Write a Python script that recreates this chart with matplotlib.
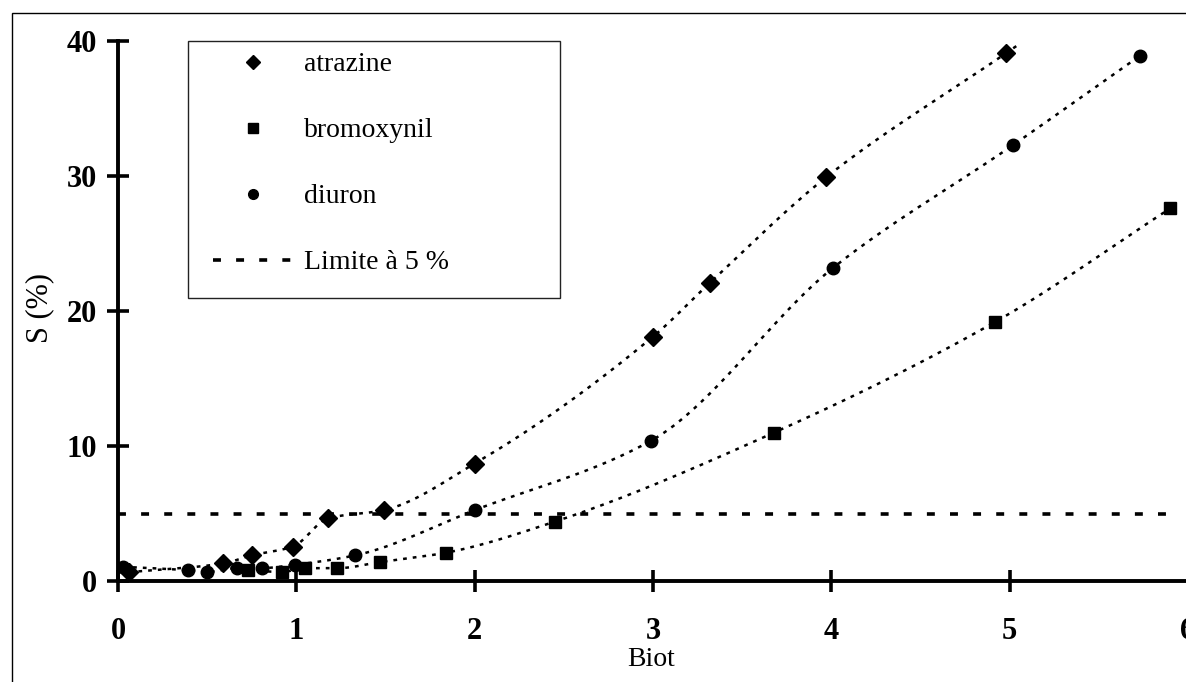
import numpy as np
import matplotlib.pyplot as plt
from matplotlib.patches import Rectangle

# ---- data ----
atrazine_x = [0.06, 0.59, 0.75, 0.98, 1.18, 1.49, 2.00, 3.00, 3.32, 3.97, 4.98]
atrazine_y = [0.65, 1.30, 1.90, 2.55, 4.65, 5.25, 8.70, 18.1, 22.1, 29.9, 39.1]

bromoxynil_x = [0.73, 0.92, 1.05, 1.23, 1.47, 1.84, 2.45, 3.68, 4.92, 5.90]
bromoxynil_y = [0.80, 0.67, 0.95, 0.95, 1.40, 2.10, 4.40, 11.0, 19.2, 27.6]

diuron_x = [0.03, 0.39, 0.50, 0.67, 0.81, 0.99, 1.33, 2.00, 2.99, 4.01, 5.02, 5.73]
diuron_y = [1.05, 0.80, 0.67, 0.96, 0.96, 1.20, 1.90, 5.25, 10.4, 23.2, 32.3, 38.9]

limit_value = 5
limit_x = [0, 5.9]

x_ticks = [0, 1, 2, 3, 4, 5, 6]
y_ticks = [0, 10, 20, 30, 40]


def smooth_curve(x, y, x_end=None, n=400):
    """Monotone cubic (PCHIP) rendering of the line through the points,
    optionally prolonged past the last point along its end slope."""
    x = np.asarray(x, float)
    y = np.asarray(y, float)
    h = np.diff(x)
    d = np.diff(y) / h
    m = np.zeros_like(x)
    m[0], m[-1] = d[0], d[-1]
    for k in range(1, len(x) - 1):
        if d[k - 1] * d[k] <= 0:
            m[k] = 0.0
        else:
            w1 = 2 * h[k] + h[k - 1]
            w2 = h[k] + 2 * h[k - 1]
            m[k] = (w1 + w2) / (w1 / d[k - 1] + w2 / d[k])
    xx = np.linspace(x[0], x[-1], n)
    idx = np.clip(np.searchsorted(x, xx) - 1, 0, len(x) - 2)
    t = (xx - x[idx]) / h[idx]
    h00 = 2 * t**3 - 3 * t**2 + 1
    h10 = t**3 - 2 * t**2 + t
    h01 = -2 * t**3 + 3 * t**2
    h11 = t**3 - t**2
    yy = (h00 * y[idx] + h10 * h[idx] * m[idx]
          + h01 * y[idx + 1] + h11 * h[idx] * m[idx + 1])
    if x_end is not None and x_end > x[-1]:
        xx = np.append(xx, x_end)
        yy = np.append(yy, y[-1] + m[-1] * (x_end - x[-1]))
    return xx, yy


plt.rcParams['font.family'] = ['Liberation Serif', 'DejaVu Serif']

W, H = 1186, 682
fig = plt.figure(figsize=(W / 100, H / 100), dpi=100)
ax = fig.add_axes([118 / W, (H - 581) / H, (1188 - 118) / W, (581 - 41) / H])

trend_style = dict(color='black', lw=1.8, linestyle=(0, (1.5, 2.4)), zorder=2)

series = [
    ('atrazine', atrazine_x, atrazine_y, 'D', 9.5, 5.05),
    ('bromoxynil', bromoxynil_x, bromoxynil_y, 's', 8.5, None),
    ('diuron', diuron_x, diuron_y, 'o', 9, None),
]

handles = []
for name, xs, ys, mk, ms, xend in series:
    xx, yy = smooth_curve(xs, ys, xend)
    ax.plot(xx, yy, **trend_style)
    h, = ax.plot(xs, ys, linestyle='none', marker=mk, ms=ms, color='black',
                 label=name, zorder=3)
    handles.append(h)

lim, = ax.plot(limit_x, [limit_value, limit_value], color='black', lw=2.6,
               linestyle=(0, (2.2, 4.2)), label='Limite à 5 %', zorder=2)
handles.append(lim)

ax.set_xlim(0, 6)
ax.set_ylim(0, 40)
ax.set_xticks(x_ticks)
ax.set_yticks(y_ticks)
for s in ['top', 'right']:
    ax.spines[s].set_visible(False)
for s in ['left', 'bottom']:
    ax.spines[s].set_linewidth(2.8)
ax.tick_params(direction='inout', length=16, width=2.6, labelsize=22)
ax.tick_params(axis='x', pad=18)
ax.tick_params(axis='y', pad=7)
for lbl in ax.get_xticklabels() + ax.get_yticklabels():
    lbl.set_fontweight('bold')

ax.set_xlabel('Biot', fontsize=20, va='center')
ax.xaxis.set_label_coords((651 - 118) / 1070, (581 - 659) / 540)
ax.set_ylabel('S (%)', fontsize=22, va='center', ha='center')
ax.yaxis.set_label_coords((40 - 118) / 1070, (581 - 308) / 540)

# legend frame
fx0 = (188 - 118) / 1070
fx1 = (560 - 118) / 1070
fy1 = (581 - 41) / 540
fy0 = (581 - 298) / 540
ax.add_patch(Rectangle((fx0, fy0), fx1 - fx0, fy1 - fy0, transform=ax.transAxes,
                       facecolor='white', edgecolor='#222222', lw=1.0,
                       clip_on=False, zorder=4))
leg = ax.legend(handles=handles, loc='upper left',
                bbox_to_anchor=((213 - 118) / 1070, (581 - 52) / 540),
                borderaxespad=0, borderpad=0, fontsize=20, frameon=False,
                handlelength=2.9, handletextpad=0.37,
                labelspacing=1.46, numpoints=1)
leg.set_zorder(5)
for h in leg.legend_handles[:3]:
    h.set_markersize(7)

fig.patches.append(Rectangle((12 / W, -0.5), 1.2, 0.5 + 1 - 13 / H,
                             transform=fig.transFigure, fill=False,
                             lw=1.0, ec='black', zorder=0))

fig.savefig('out.png', dpi=100)
